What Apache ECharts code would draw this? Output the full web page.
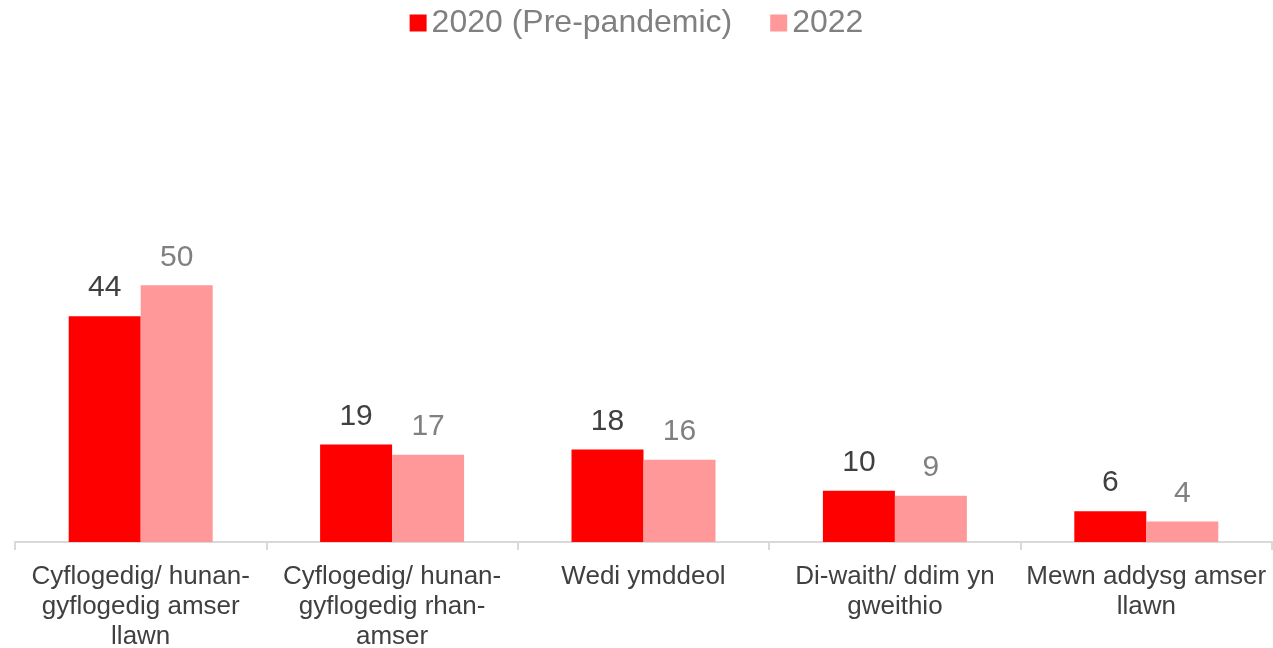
<html>
<head>
	<meta charset="utf-8">
</head>
<body style="margin:0">
	<div id="main" style="width:1273px;height:648px;"></div>
	<script src="https://cdn.jsdelivr.net/npm/echarts@6/dist/echarts.min.js"></script>
	<script>
		var myChart = echarts.init(document.getElementById('main'), null, { renderer: 'canvas' });

		// data
		var categories = [
			'Cyflogedig/ hunan-\ngyflogedig amser\nllawn',
			'Cyflogedig/ hunan-\ngyflogedig rhan-\namser',
			'Wedi ymddeol',
			'Di-waith/ ddim yn\ngweithio',
			'Mewn addysg amser\nllawn'
		];
		var seriesNames = ['2020 (Pre-pandemic)', '2022'];
		var values2020 = [44, 19, 18, 10, 6];
		var values2022 = [50, 17, 16, 9, 4];

		var font = '"Liberation Sans", Arial, sans-serif';

		var option = {
			animation: false,
			textStyle: { fontFamily: font },
			legend: {
				top: 2,
				left: 'center',
				itemWidth: 17,
				itemHeight: 17,
				itemGap: 38,
				icon: 'rect',
				textStyle: { fontSize: 32, color: '#808080', fontFamily: font }
			},
			grid: { left: 15, right: 1, top: 234, bottom: 106, containLabel: false, outerBoundsMode: 'none' },
			xAxis: {
				type: 'category',
				data: categories,
				axisLine: { lineStyle: { color: '#d9d9d9', width: 2 } },
				axisTick: { show: true, length: 8, lineStyle: { color: '#d9d9d9', width: 2 } },
				axisLabel: {
					interval: 0,
					margin: 20,
					fontSize: 26,
					lineHeight: 30,
					color: '#404040',
					fontFamily: font
				}
			},
			yAxis: {
				type: 'value',
				min: 0,
				max: 60,
				show: false,
				splitLine: { show: false }
			},
			series: [
				{
					name: seriesNames[0],
					type: 'bar',
					barWidth: 72,
					barGap: '0%',
					itemStyle: { color: '#ff0000' },
					label: { show: true, position: 'top', distance: 13, fontSize: 30, color: '#404040', fontFamily: font },
					data: values2020
				},
				{
					name: seriesNames[1],
					type: 'bar',
					barWidth: 72,
					barGap: '0%',
					itemStyle: { color: '#ff9999' },
					label: { show: true, position: 'top', distance: 13, fontSize: 30, color: '#808080', fontFamily: font },
					data: values2022
				}
			]
		};

		myChart.setOption(option);
	</script>
</body>
</html>
